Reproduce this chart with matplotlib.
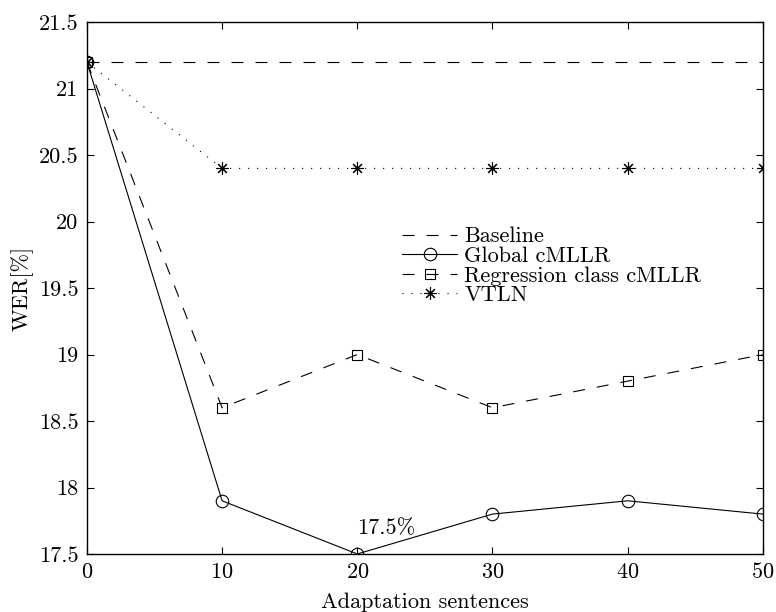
import matplotlib
matplotlib.use("Agg")
import matplotlib.pyplot as plt

plt.rcParams['font.family'] = ['cmr10', 'DejaVu Serif']
plt.rcParams['axes.formatter.use_mathtext'] = True
plt.rcParams['mathtext.fontset'] = 'cm'

x = [0, 10, 20, 30, 40, 50]
baseline = [21.2, 21.2, 21.2, 21.2, 21.2, 21.2]
global_cmllr = [21.2, 17.9, 17.5, 17.8, 17.9, 17.8]
regression_cmllr = [21.2, 18.6, 19.0, 18.6, 18.8, 19.0]
vtln = [21.2, 20.4, 20.4, 20.4, 20.4, 20.4]
xticks = [0, 10, 20, 30, 40, 50]
yticks = [17.5, 18, 18.5, 19, 19.5, 20, 20.5, 21, 21.5]
ytick_labels = ['17.5', '18', '18.5', '19', '19.5', '20', '20.5', '21', '21.5']

FS = 16
DASH = (0, (10.8, 10.8))

fig = plt.figure(figsize=(7.76, 6.12), dpi=100)
ax = fig.add_axes([0.112, 0.0948, 0.871, 0.869])

ax.plot(x, baseline, color='black', linestyle=DASH, linewidth=0.8, label='Baseline')
ax.plot(x, global_cmllr, color='black', linestyle='-', linewidth=0.8, marker='o',
        markersize=9, markerfacecolor='none', markeredgewidth=0.8, label='Global cMLLR')
ax.plot(x, regression_cmllr, color='black', linestyle=DASH, linewidth=0.8, marker='s',
        markersize=7, markerfacecolor='none', markeredgewidth=0.8, label='Regression class cMLLR')
ax.plot(x, vtln, color='black', linestyle=(0, (1, 7.1)), linewidth=0.8, marker=(8, 2, 0),
        markersize=9, markeredgewidth=0.8, label='VTLN')

ax.text(20, 17.65, '17.5%', fontsize=FS, ha='left', va='baseline')

ax.set_xlim(0, 50)
ax.set_ylim(17.5, 21.5)
ax.set_xticks(xticks)
ax.set_yticks(yticks)
ax.set_yticklabels(ytick_labels)
ax.tick_params(direction='in', top=True, right=True, labelsize=FS, length=5, width=0.8, pad=6)
for s in ax.spines.values():
    s.set_linewidth(1.0)

ax.set_xlabel('Adaptation sentences', fontsize=FS, labelpad=7)
ax.set_ylabel('WER[%]', fontsize=FS, labelpad=4)

ax.legend(loc='upper left', bbox_to_anchor=(0.466, 0.615), frameon=False, fontsize=FS,
          handlelength=2.5, handletextpad=0.3, labelspacing=0.0, borderaxespad=0,
          borderpad=0, numpoints=1)

fig.savefig('out.png', dpi=100)
